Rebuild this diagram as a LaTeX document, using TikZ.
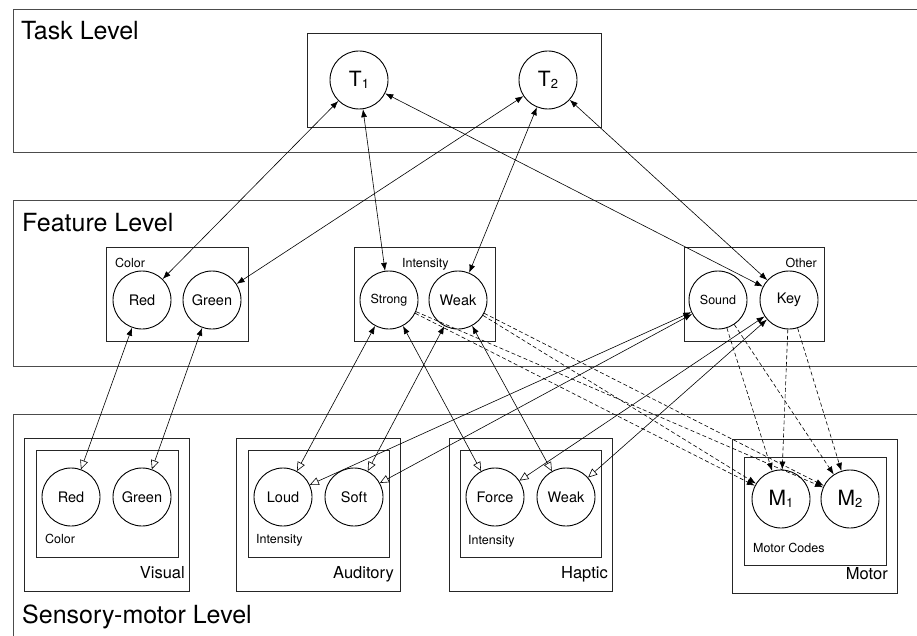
\documentclass[tikz,border=0pt]{standalone}
\usepackage{fontspec}
\setmainfont{TeX Gyre Heros}
\usetikzlibrary{arrows.meta}
\newcommand{\subdig}[1]{\raisebox{-2.5pt}{\fontsize{13}{13}\selectfont #1}}
\begin{document}
\begin{tikzpicture}[x=1pt,y=-1pt,
  lvl/.style={draw=black!70,line width=0.9pt},
  box/.style={draw=black!85,line width=0.8pt},
  unit/.style={circle,draw,line width=0.9pt,minimum size=58pt,inner sep=0pt,font=\fontsize{14.5}{16}\selectfont},
  unitsm/.style={unit,font=\fontsize{12.5}{14}\selectfont},
  unitbig/.style={unit,font=\fontsize{21}{24}\selectfont},
  txt/.style={inner sep=0pt},
  lvltxt/.style={txt,anchor=base west,font=\fontsize{25}{28}\selectfont},
  smtxt/.style={txt,font=\fontsize{12.5}{14}\selectfont},
  midtxt/.style={txt,anchor=base east,font=\fontsize{16.5}{19}\selectfont},
  conn/.style={line width=0.6pt,{Latex[length=8pt,width=6pt]}-{Latex[length=8pt,width=6pt]}},
  sconn/.style={line width=0.6pt,{Latex[length=8pt,width=6pt]}-{Triangle[open,length=9pt,width=8pt,line width=0.6pt]}},
  mconn/.style={line width=0.6pt,dash pattern=on 4pt off 2.5pt,-{Latex[length=8pt,width=6pt]}}
]
\useasboundingbox (0,0) rectangle (917,636);
\clip (0,0) rectangle (917,636);
\fill[white] (0,0) rectangle (917,636);

% level boxes
\draw[lvl] (13,9) rectangle (930,152);
\draw[lvl] (13,200) rectangle (930,366);
\draw[lvl] (13,414) rectangle (930,650);
\node[lvltxt] (ltask) at (21,40) {Task Level};
\node[lvltxt] (lfeat) at (22,231) {Feature Level};
\node[lvltxt] (lsens) at (22,623) {Sensory-motor Level};

% task
\draw[box] (307,33) rectangle (601,127);
\node[unitbig] (t1) at (359,80) {T\subdig{1}};
\node[unitbig] (t2) at (548,80) {T\subdig{2}};

% feature boxes
\draw[box] (106,247) rectangle (248,341);
\draw[box] (354,247) rectangle (495,341);
\draw[box] (684,247) rectangle (824,341);
\node[smtxt,anchor=base west] (fcol) at (115,267) {Color};
\node[smtxt,anchor=base west] (fint) at (402,267) {Intensity};
\node[smtxt,anchor=base east] (foth) at (817,267) {Other};
\node[unit] (fRed) at (142,300) {Red};
\node[unit] (fGreen) at (212,300) {Green};
\node[unitsm] (fStrong) at (389,300) {Strong};
\node[unit] (fWeak) at (458,300) {Weak};
\node[unitsm] (fSound) at (718,300) {Sound};
\node[unit] (fKey) at (789,300) {Key};

% sensory-motor boxes
\draw[box] (24,438) rectangle (189,591);
\draw[box] (36,450) rectangle (178,557);
\draw[box] (236,438) rectangle (400,591);
\draw[box] (248,450) rectangle (389,557);
\draw[box] (449,438) rectangle (612,591);
\draw[box] (460,450) rectangle (601,557);
\draw[box] (732,439) rectangle (897,593);
\draw[box] (744,457) rectangle (886,565);

\node[unit] (vRed) at (71,497) {Red};
\node[unit] (vGreen) at (142,497) {Green};
\node[unit] (aLoud) at (283,497) {Loud};
\node[unit] (aSoft) at (354,497) {Soft};
\node[unit] (hForce) at (495,497) {Force};
\node[unit] (hWeak) at (566,497) {Weak};
\node[unitbig] (m1) at (781,499) {M\subdig{1}};
\node[unitbig] (m2) at (850,499) {M\subdig{2}};

\node[smtxt,anchor=base west] (vcol) at (45,543) {Color};
\node[smtxt,anchor=base west] (aint) at (256,543) {Intensity};
\node[smtxt,anchor=base west] (hint) at (468,544) {Intensity};
\node[smtxt,anchor=base west] (mcod) at (753,552) {Motor Codes};
\node[midtxt] (lvis) at (185,578) {Visual};
\node[midtxt] (laud) at (394,578) {Auditory};
\node[midtxt] (lhap) at (608,578) {Haptic};
\node[midtxt] (lmot) at (888,579) {Motor};

% task <-> feature
\draw[conn] (t1) -- (fRed);
\draw[conn] (t1) -- (fStrong);
\draw[conn] (t1) -- (fKey);
\draw[conn] (t2) -- (fGreen);
\draw[conn] (t2) -- (fWeak);
\draw[conn] (t2) -- (fKey);

% feature <-> sensory
\draw[sconn] (fRed) -- (vRed);
\draw[sconn] (fGreen) -- (vGreen);
\draw[sconn] (fStrong) -- (aLoud);
\draw[sconn] (fWeak) -- (aSoft);
\draw[sconn] (fStrong) -- (hForce);
\draw[sconn] (fWeak) -- (hWeak);
\draw[sconn] (fSound) -- (aLoud);
\draw[sconn] (fSound) -- (aSoft);
\draw[sconn] (fKey) -- (hForce);
\draw[sconn] (fKey) -- (hWeak);

% feature -> motor
\foreach \f in {fStrong,fWeak,fSound,fKey}{
  \draw[mconn] (\f) -- (m1);
  \draw[mconn] (\f) -- (m2);
}
\end{tikzpicture}
\end{document}
